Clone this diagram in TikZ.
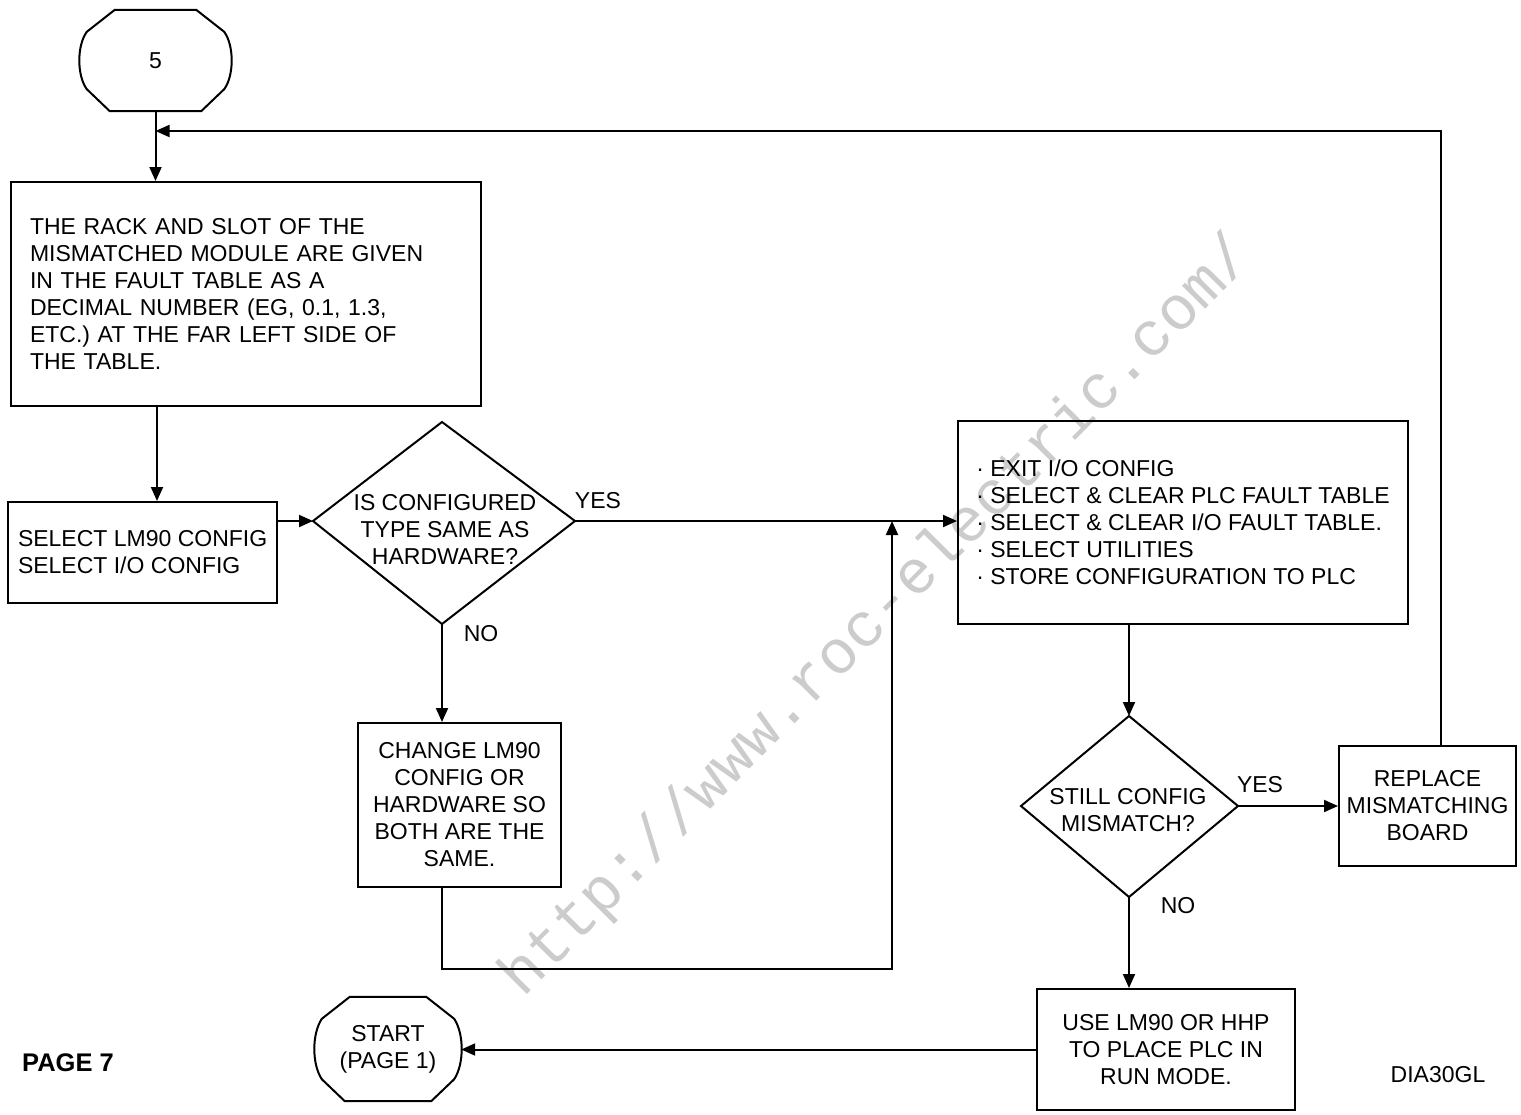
\documentclass[tikz,border=0pt]{standalone}
\usepackage{fontspec}
\setmainfont{Liberation Sans}
\newfontfamily\wmfont{Liberation Mono}
\usetikzlibrary{arrows.meta,calc}
\newcommand\termshape[1]{%
  \draw[ln] ($(#1.north west)+(35,0)$) -- ($(#1.north east)+(-35,0)$) -- ($(#1.north east)+(-7,22)$)
    .. controls ($(#1.east)+(3,-15)$) and ($(#1.east)+(3,15)$) .. ($(#1.south east)+(-7,-22)$)
    -- ($(#1.south east)+(-30,0)$) -- ($(#1.south west)+(30,0)$) -- ($(#1.south west)+(7,-22)$)
    .. controls ($(#1.west)+(-3,15)$) and ($(#1.west)+(-3,-15)$) .. ($(#1.north west)+(7,22)$) -- cycle;}
\begin{document}
\begin{tikzpicture}[x=1pt,y=-1pt,
  every node/.style={font=\fontsize{23}{27}\selectfont},
  box/.style={draw, line width=2pt, inner ysep=0pt},
  txt/.style={inner sep=0pt, align=center},
  ln/.style={line width=2pt},
  arr/.style={line width=2pt, -{Triangle[length=14pt,width=12pt]}}]
\fill[white] (0,0) rectangle (1521,1114);
\useasboundingbox (0,0) rectangle (1521,1114);
% watermark
\node[rotate=45.3, text=gray!40, font=\wmfont\fontsize{62}{62}\selectfont] (wm) at (878,617) {http://www.roc-electric.com/};
% terminals
\node[txt, minimum width=151, minimum height=101] (t5) at (155.5,60.5) {5};
\termshape{t5}
\node[txt, minimum width=146, minimum height=104] (st) at (388,1049) {START\\(PAGE 1)};
\termshape{st}
% boxes
\node[box, minimum width=470, minimum height=224, text width=432, inner xsep=19, align=left] (b1) at (246,294)
  {THE RACK AND SLOT OF THE\\MISMATCHED MODULE ARE GIVEN\\IN THE FAULT TABLE AS A\\DECIMAL NUMBER (EG, 0.1, 1.3,\\ETC.) AT THE FAR LEFT SIDE OF\\THE TABLE.};
\node[box, minimum width=269, minimum height=101, inner xsep=10, align=left, anchor=west] (b2) at (7,552.5)
  {SELECT LM90 CONFIG\\SELECT I/O CONFIG};
\node[box, minimum width=450, minimum height=203, inner xsep=10, align=left] (b3) at (1183,522.5)
  {· EXIT I/O CONFIG\\· SELECT \& CLEAR PLC FAULT TABLE\\· SELECT \& CLEAR I/O FAULT TABLE.\\· SELECT UTILITIES\\· STORE CONFIGURATION TO PLC};
\node[box, minimum width=203, minimum height=164, align=center] (b4) at (459.5,805)
  {CHANGE LM90\\CONFIG OR\\HARDWARE SO\\BOTH ARE THE\\SAME.};
\node[box, minimum width=177, minimum height=120, align=center, inner xsep=2] (b5) at (1427.5,806)
  {REPLACE\\MISMATCHING\\BOARD};
\node[box, minimum width=258, minimum height=121, align=center] (b6) at (1166,1049.5)
  {USE LM90 OR HHP\\TO PLACE PLC IN\\RUN MODE.};
% diamonds
\coordinate (d1l) at (313,521); \coordinate (d1t) at (442,422);
\coordinate (d1r) at (575,521); \coordinate (d1b) at (442,624);
\draw[ln] (d1l) -- (d1t) -- (d1r) -- (d1b) -- cycle;
\node[txt] (d1) at (445,529) {IS CONFIGURED\\TYPE SAME AS\\HARDWARE?};
\coordinate (d2l) at (1021,806); \coordinate (d2t) at (1129,716);
\coordinate (d2r) at (1238,806); \coordinate (d2b) at (1129,897);
\draw[ln] (d2l) -- (d2t) -- (d2r) -- (d2b) -- cycle;
\node[txt] (d2) at (1128,810) {STILL CONFIG\\MISMATCH?};
% connectors
\coordinate (c1) at (157,0);
\coordinate (fbs) at (1441,746);
\coordinate (fb) at (155.5,131);
\coordinate (j) at (892,521);
\draw[arr] (t5.south) -- (t5.south |- b1.north);
\draw[arr] (fbs) |- (fb);
\draw[arr] (b1.south -| c1) -- (b2.north -| c1);
\draw[arr] (b2.east |- d1l) -- (d1l);
\draw[arr] (d1r) -- (b3.west |- d1r);
\draw[arr] (d1b) -- (b4.north -| d1b);
\draw[arr] (b4.south -| d1b) -- ++(0,81) -| (j);
\draw[arr] (b3.south -| d2t) -- (d2t);
\draw[arr] (d2r) -- (b5.west);
\draw[arr] (d2b) -- (b6.north -| d2b);
\draw[arr] (b6.west) -- (st.east |- b6.west);
% labels
\node (yes1) at (598,501) {YES};
\node (no1) at (481,634) {NO};
\node (yes2) at (1260,785) {YES};
\node (no2) at (1178,906) {NO};
\node[font=\fontsize{25.5}{27}\selectfont\bfseries] (pg) at (68,1063) {PAGE 7};
\node (dia) at (1438,1075) {DIA30GL};
\end{tikzpicture}
\end{document}
